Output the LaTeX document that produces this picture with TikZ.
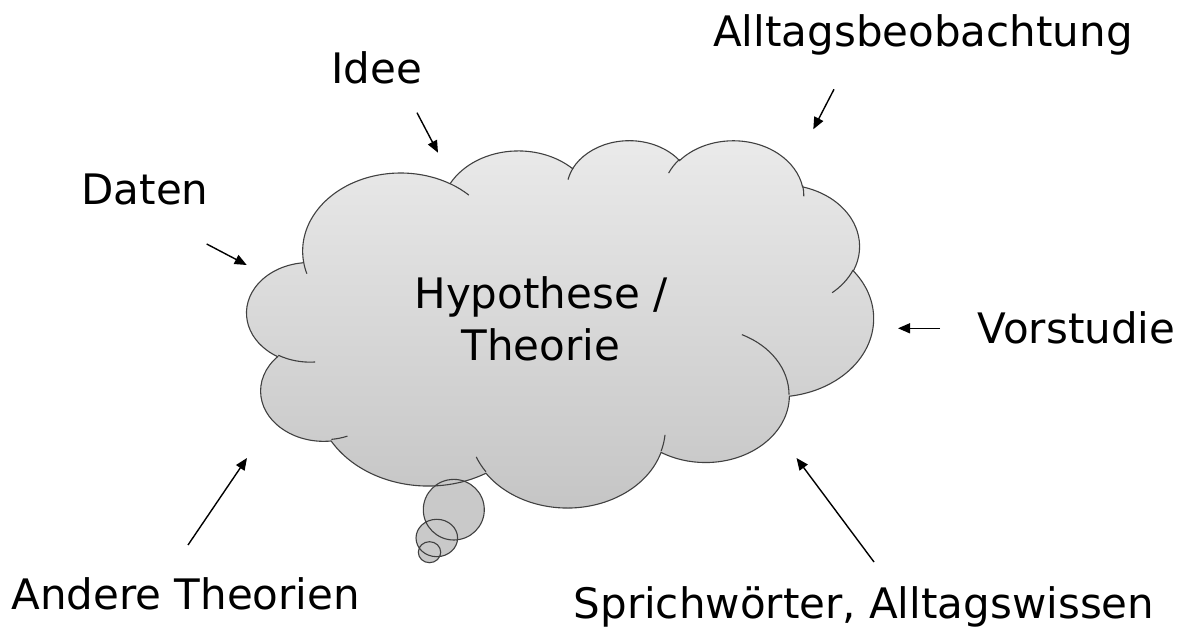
\documentclass[tikz,border=0pt]{standalone}
\usepackage{fontspec}
\setmainfont{DejaVu Sans}
\usetikzlibrary{arrows.meta}

% one bulge of the cloud: radii, start angle, sweep (office shape angles)
\newcommand\lobe[4]{%
  \pgfextra{%
    \pgfmathsetmacro\lobeA{atan2(#1*sin(#3),#2*cos(#3))}%
    \pgfmathsetmacro\lobeB{atan2(#1*sin(#3+#4),#2*cos(#3+#4))}%
    \pgfmathsetmacro\lobeD{\lobeB-\lobeA}%
    \pgfmathsetmacro\lobeD{\lobeD-360*round((\lobeD-#4)/360)}}%
  arc[start angle=\lobeA, delta angle=\lobeD, x radius=#1, y radius=#2]}

\newcommand\cloudpath{(39.00,143.70)
  \lobe{67.53}{91.90}{-190.4875}{123.7805}
  \lobe{53.33}{72.67}{-144.1024}{89.9452}
  \lobe{43.65}{59.45}{-145.8079}{99.7230}
  \lobe{48.57}{65.95}{-130.9861}{117.2417}
  \lobe{53.33}{72.73}{-78.7089}{109.0269}
  \lobe{67.75}{92.20}{-46.2673}{130.2690}
  \lobe{57.85}{78.67}{0.6250}{114.0333}
  \lobe{67.52}{92.15}{22.4516}{115.1726}
  \lobe{77.20}{105.43}{66.2426}{75.7110}
  \lobe{43.60}{59.18}{-274.9421}{146.7356}
  \lobe{43.45}{59.45}{-246.8285}{152.5189} -- cycle}

\tikzset{
  lbl/.style={font=\fontsize{21}{26}\selectfont, anchor=base},
  pointer/.style={-{Triangle[length=6pt,width=5pt]}, line width=0.7pt},
  cloudline/.style={draw=black!75, line width=0.55pt},
}

\begin{document}
\begin{tikzpicture}[x=0.5pt,y=-0.5pt]
\useasboundingbox (0,0) rectangle (1184,630);

\begin{scope}[shift={(247,139.5)},x=0.725pt,y=-0.425pt]
\shade[top color=black!8, bottom color=black!23] \cloudpath;
\end{scope}
\fill[black!21] (453.8,509.7) ellipse [x radius=30.5, y radius=30.3]
  (436.8,538) ellipse [x radius=20.8, y radius=18.7]
  (429.5,552.2) ellipse [x radius=11.2, y radius=10.5];
\begin{scope}[shift={(247,139.5)},x=0.725pt,y=-0.425pt]
\draw[cloudline] \cloudpath;
\draw[cloudline] (46.93,261.77) \lobe{43.45}{59.45}{86.7420}{26.4295}
  (69.28,348.99) \lobe{43.60}{59.18}{73.6105}{11.4475}
  (164.78,390.90) \lobe{67.52}{92.15}{137.6242}{14.0811}
  (288.27,347.51) \lobe{67.52}{92.15}{6.4533}{15.9984}
  (341.29,229.54) \lobe{57.85}{78.67}{-70.2924}{70.2924}
  (417.98,153.54) \lobe{53.33}{72.73}{30.3180}{27.7515}
  (383.24,54.26) \lobe{48.57}{65.95}{-13.7443}{14.8589}
  (290.78,39.52) \lobe{48.57}{65.95}{-149.1815}{18.1954}
  (221.41,47.20) \lobe{43.65}{59.45}{-163.4943}{17.6864}
  (140.00,51.92) \lobe{67.53}{91.90}{-66.7070}{12.3194}
  (41.27,157.89) \lobe{67.53}{91.90}{157.6544}{11.8582};
\end{scope}
\draw[cloudline] (453.8,509.7) ellipse [x radius=30.5, y radius=30.3]
  (436.8,538) ellipse [x radius=20.8, y radius=18.7]
  (429.5,552.2) ellipse [x radius=11.2, y radius=10.5];

\node[align=center, font=\fontsize{21}{26}\selectfont] (hyp) at (541,319) {Hypothese /\\Theorie};

\node[lbl] (daten) at (145,205) {Daten};
\node[lbl] (idee) at (376.5,84) {Idee};
\node[lbl] (alltag) at (923,46.7) {Alltagsbeobachtung};
\node[lbl] (vorstudie) at (1076.5,343.3) {Vorstudie};
\node[lbl] (andere) at (185.7,610) {Andere Theorien};
\node[lbl] (sprich) at (864,618) {Sprichwörter, Alltagswissen};

\coordinate (daten-a) at (206.7,244);
\coordinate (daten-b) at (246.7,265);
\coordinate (idee-a) at (417,112.7);
\coordinate (idee-b) at (438,152.7);
\coordinate (alltag-a) at (834,89.3);
\coordinate (alltag-b) at (813.3,129.3);
\coordinate (vorstudie-a) at (940,328.3);
\coordinate (vorstudie-b) at (898,328.3);
\coordinate (andere-a) at (188,545);
\coordinate (andere-b) at (247,458);
\coordinate (sprich-a) at (874,562);
\coordinate (sprich-b) at (796.5,458);

\draw[pointer] (daten-a) -- (daten-b);
\draw[pointer] (idee-a) -- (idee-b);
\draw[pointer] (alltag-a) -- (alltag-b);
\draw[pointer] (vorstudie-a) -- (vorstudie-b);
\draw[pointer] (andere-a) -- (andere-b);
\draw[pointer] (sprich-a) -- (sprich-b);
\end{tikzpicture}
\end{document}
